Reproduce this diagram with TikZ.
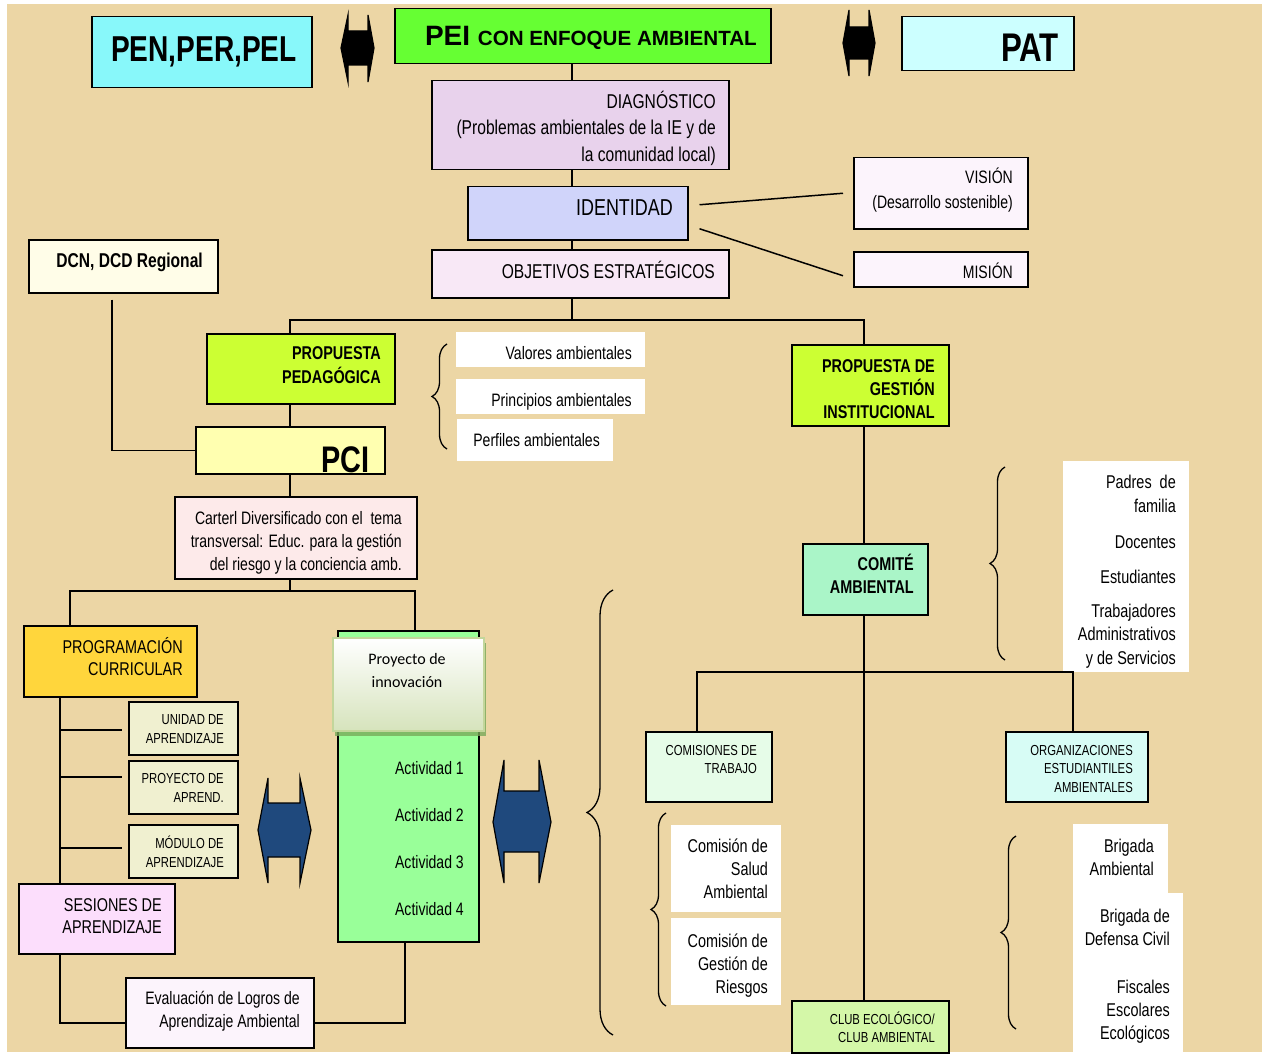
\documentclass[tikz,border=0pt]{standalone}
\usepackage{fontspec}
\setmainfont[FakeStretch=0.78]{Liberation Sans}
\newfontfamily\widefont{Liberation Sans}
\newfontfamily\calfont{Carlito}
\usetikzlibrary{decorations.pathreplacing,shadows}
\newcommand\fsz[2]{\fontsize{#1}{#2}\selectfont}
\newcommand\bx[6]{\node[#6, minimum width={#4-#2}, minimum height={#5-#3}, anchor=north west] (#1) at (#2,#3) {};}
\definecolor{bgc}{RGB}{236,214,165}
\definecolor{cpen}{RGB}{136,248,250}
\definecolor{cpei}{RGB}{102,255,51}
\definecolor{cpat}{RGB}{204,255,255}
\definecolor{cdiag}{RGB}{232,210,236}
\definecolor{cident}{RGB}{208,212,250}
\definecolor{cobj}{RGB}{248,232,246}
\definecolor{cvis}{RGB}{252,244,252}
\definecolor{cdcn}{RGB}{255,253,232}
\definecolor{clime}{RGB}{204,255,51}
\definecolor{cpci}{RGB}{255,255,176}
\definecolor{ccart}{RGB}{253,234,234}
\definecolor{cprog}{RGB}{255,214,60}
\definecolor{cunid}{RGB}{240,240,208}
\definecolor{cses}{RGB}{252,222,252}
\definecolor{cproj}{RGB}{153,255,153}
\definecolor{cblue}{RGB}{31,73,125}
\definecolor{ccom}{RGB}{170,245,200}
\definecolor{ccomis}{RGB}{230,252,232}
\definecolor{cclub}{RGB}{212,247,168}
\definecolor{corg}{RGB}{215,252,245}
\definecolor{cinnb}{RGB}{195,214,155}
\definecolor{cinnf}{RGB}{214,227,188}
\definecolor{cinns}{RGB}{120,170,90}
\begin{document}
\begin{tikzpicture}[x=1pt,y=-1pt,
  box/.style={draw=black, line width=1.5pt, inner sep=0pt},
  wbox/.style={fill=white, inner sep=0pt},
  ln/.style={line width=1.5pt},
  t/.style={inner sep=0pt, align=right, anchor=base east},
  br/.style={decorate, decoration={brace, amplitude=#1}, line width=1.3pt},
  shp/.style={draw=black, line width=1.2pt, line join=miter}]
\useasboundingbox (0,0) rectangle (1267,1054);
\fill[white] (0,0) rectangle (1267,1054);
\fill[bgc] (7,4) rectangle (1262,1052);

% ---------- boxes ----------
\bx{pen}{91}{16}{311}{87}{box, fill=cpen}
\bx{pei}{394}{8}{770}{63}{box, fill=cpei}
\bx{pat}{901}{16}{1073}{70}{box, fill=cpat}
\bx{diag}{431}{80}{728}{169}{box, fill=cdiag}
\bx{ident}{467}{186}{687}{239}{box, fill=cident}
\bx{obj}{431}{249}{728}{297}{box, fill=cobj}
\bx{vis}{853}{157}{1027}{228}{box, fill=cvis}
\bx{mis}{853}{251}{1027}{286}{box, fill=cvis}
\bx{dcn}{28}{239}{217}{292}{box, fill=cdcn}
\bx{pp}{206}{333}{394}{403}{box, fill=clime}
\bx{val}{456}{332}{645}{367}{wbox}
\bx{pri}{456}{379}{645}{414}{wbox}
\bx{per}{457}{419}{613}{461}{wbox}
\bx{pg}{791}{344}{948}{425}{box, fill=clime}
\bx{pci}{195}{426}{384}{473}{box, fill=cpci}
\bx{cart}{174}{496}{416}{578}{box, fill=ccart}
\bx{prog}{23}{625}{196}{696}{box, fill=cprog}
\bx{unid}{128}{701}{237}{754}{box, fill=cunid}
\bx{proy}{128}{760}{237}{813}{box, fill=cunid}
\bx{mod}{128}{824}{237}{877}{box, fill=cunid}
\bx{ses}{18}{883}{174}{953}{box, fill=cses}
\bx{eval}{125}{977}{313}{1047}{box, fill=cvis}
\bx{proj}{337}{630}{478}{941}{box, fill=cproj}
\bx{innov}{332}{637}{483}{730}{draw=cinnb, line width=2pt, inner sep=0pt, top color=white, bottom color=cinnf, drop shadow={shadow xshift=2pt, shadow yshift=-5pt, fill=cinns, opacity=0.8}}
\bx{com}{802}{543}{927}{614}{box, fill=ccom}
\bx{padres}{1063}{461}{1189}{672}{wbox}
\bx{comis}{645}{731}{771}{801}{box, fill=ccomis}
\bx{salud}{671}{825}{781}{912}{wbox}
\bx{gest}{671}{918}{781}{1005}{wbox}
\bx{club}{791}{1000}{948}{1052}{box, fill=cclub}
\bx{org}{1005}{731}{1147}{801}{box, fill=corg}
\bx{briga}{1073}{824}{1168}{893}{wbox}
\bx{brigb}{1073}{893}{1183}{1052}{wbox}

% ---------- helper coordinates ----------
\coordinate (xa) at (572,0);
\coordinate (xb) at (290,0);
\coordinate (xc) at (864,0);
\coordinate (xd) at (112,0);
\coordinate (xe) at (70,0);
\coordinate (xf) at (415,0);
\coordinate (xg) at (60,0);
\coordinate (xh) at (405,0);
\coordinate (xi) at (697,0);
\coordinate (xj) at (1073,0);
\coordinate (ya) at (0,320);
\coordinate (yb) at (0,591);
\coordinate (yc) at (0,672);
\coordinate (yd) at (0,1023);
\coordinate (yu) at (0,730);
\coordinate (yp) at (0,777);
\coordinate (ym) at (0,848);

% ---------- connectors ----------
\draw[ln] (pei.south -| xa) -- (diag.north -| xa);
\draw[ln] (diag.south -| xa) -- (ident.north -| xa);
\draw[ln] (ident.south -| xa) -- (obj.north -| xa);
\draw[ln] (obj.south -| xa) -- (xa |- ya);
\draw[ln] (pp.north -| xb) |- (xc |- ya) -- (pg.north -| xc);
\draw[ln] ([shift={(11,-8.5)}]ident.east) -- ([shift={(-10,0)}]vis.west);
\draw[ln] ([shift={(11,15.5)}]ident.east) -- ([shift={(-10,6.5)}]mis.west);
\draw[ln] (pp.south -| xb) -- (pci.north -| xb);
\draw[ln] ([yshift=-6pt]dcn.south -| xd) |- (pci.west);
\draw[ln] (pci.south -| xb) -- (cart.north -| xb);
\draw[ln] (cart.south -| xb) -- (xb |- yb);
\draw[ln] (prog.north -| xe) |- (xf |- yb) -- (proj.north -| xf);
\draw[ln] (prog.south -| xg) -- (ses.north -| xg);
\draw[ln, shorten >=6pt] (xg |- yu) -- (unid.west |- yu);
\draw[ln, shorten >=6pt] (xg |- yp) -- (proy.west |- yp);
\draw[ln, shorten >=6pt] (xg |- ym) -- (mod.west |- ym);
\draw[ln] (ses.south -| xg) |- (eval.west |- yd);
\draw[ln] (eval.east |- yd) -| (proj.south -| xh);
\draw[ln] (pg.south -| xc) -- (com.north -| xc);
\draw[ln] (com.south -| xc) -- (club.north -| xc);
\draw[ln] (comis.north -| xi) |- (xj |- yc) -- (org.north -| xj);

% ---------- braces ----------
\draw[br=15pt] (447,449) -- (447,344);
\draw[br=26pt] (613,1035) -- (613,590);
\draw[br=15pt] (1005,660) -- (1005,467);
\draw[br=15pt] (666,1006) -- (666,813);
\draw[br=15pt] (1016,1029) -- (1016,836);

% ---------- double arrows ----------
\filldraw[shp, fill=black] (341,48) -- (348,15) -- (348,31) -- (368,31) -- (368,15) -- (374,48) -- (368,82) -- (368,65) -- (348,65) -- (348,82) -- cycle;
\filldraw[shp, fill=black] (843,43) -- (849,10) -- (849,27) -- (869,27) -- (869,10) -- (875,43) -- (869,76) -- (869,59) -- (849,59) -- (849,76) -- cycle;
\filldraw[shp, fill=cblue] (258,830) -- (268,778) -- (268,803) -- (300,803) -- (300,778) -- (311,830) -- (300,883) -- (300,857) -- (268,857) -- (268,883) -- cycle;
\filldraw[shp, fill=cblue] (493,822) -- (504,760) -- (504,791) -- (539,791) -- (539,760) -- (551,822) -- (539,883) -- (539,852) -- (504,852) -- (504,883) -- cycle;

% ---------- texts (anchor = baseline of the last line) ----------
\node[t, font=\bfseries\fsz{36}{40}] (tpen) at (297,62) {PEN,PER,PEL};
\node[t, font=\widefont\bfseries] (tpei) at (757,46) {\fsz{28}{34}PEI \fsz{20.6}{24}CON ENFOQUE AMBIENTAL};
\node[t, font=\bfseries\fsz{40}{42}] (tpat) at (1059,62) {PAT};
\node[t, font=\fsz{20}{26}] (tdiag) at (716,161) {DIAGNÓSTICO\\(Problemas ambientales de la IE y de\\la comunidad local)};
\node[t, font=\fsz{23}{24}] (tident) at (673,215) {IDENTIDAD};
\node[t, font=\fsz{20}{24}] (tobj) at (715,278) {OBJETIVOS ESTRATÉGICOS};
\node[t, font=\fsz{18}{25}] (tvis) at (1013,208) {VISIÓN\\(Desarrollo sostenible)};
\node[t, font=\fsz{18}{25}] (tmis) at (1013,278) {MISIÓN};
\node[t, font=\bfseries\fsz{20}{24}] (tdcn) at (203,267) {DCN, DCD Regional};
\node[t, font=\bfseries\fsz{18.5}{24}] (tpp) at (381,383) {PROPUESTA\\PEDAGÓGICA};
\node[t, font=\fsz{18}{22}] (tval) at (632,359) {Valores ambientales};
\node[t, font=\fsz{18}{22}] (tpri) at (632,406) {Principios ambientales};
\node[t, font=\fsz{18}{22}] (tper) at (600,446) {Perfiles ambientales};
\node[t, font=\bfseries\fsz{18.5}{23}] (tpg) at (935,418) {PROPUESTA DE\\GESTIÓN\\INSTITUCIONAL};
\node[t, font=\bfseries\fsz{37}{42}] (tpci) at (370,472) {PCI};
\node[t, font=\fsz{18}{23}] (tcart) at (402,570) {Carterl Diversificado con el\ \ tema\\transversal: Educ. para la gestión\\del riesgo y la conciencia amb.};
\node[t, font=\fsz{18.5}{22}] (tprog) at (183,675) {PROGRAMACIÓN\\CURRICULAR};
\node[t, font=\fsz{14.5}{18.5}] (tunid) at (224,743) {UNIDAD DE\\APRENDIZAJE};
\node[t, font=\fsz{14.5}{18.5}] (tproy) at (224,802) {PROYECTO DE\\APREND.};
\node[t, font=\fsz{14.5}{19}] (tmod) at (224,867) {MÓDULO DE\\APRENDIZAJE};
\node[t, font=\fsz{18.5}{22}] (tses) at (162,933) {SESIONES DE\\APRENDIZAJE};
\node[t, font=\fsz{18}{22.5}] (teval) at (300,1027) {Evaluación de Logros de\\Aprendizaje Ambiental};
\node[inner sep=0pt, align=center, anchor=base, font=\calfont\fsz{16}{23}] (tinnov) at (407,687) {Proyecto de\\innovación};
\node[t, font=\fsz{18}{46.7}] (tact) at (464,915) {Actividad 1\\Actividad 2\\Actividad 3\\Actividad 4};
\node[t, font=\bfseries\fsz{18.5}{23}] (tcom) at (914,593) {COMITÉ\\AMBIENTAL};
\node[t, font=\fsz{18.5}{24}] (tpad) at (1176,512) {Padres\ \ de\\familia};
\node[t, font=\fsz{18.5}{24}] (tdoc) at (1176,548) {Docentes};
\node[t, font=\fsz{18.5}{24}] (test) at (1176,583) {Estudiantes};
\node[t, font=\fsz{18.5}{23.5}] (ttra) at (1176,664) {Trabajadores\\Administrativos\\y de Servicios};
\node[t, font=\fsz{14.5}{18}] (tcomis) at (757,773) {COMISIONES DE\\TRABAJO};
\node[t, font=\fsz{18.5}{23}] (tsalud) at (768,898) {Comisión de\\Salud\\Ambiental};
\node[t, font=\fsz{18.5}{23}] (tgest) at (768,993) {Comisión de\\Gestión de\\Riesgos};
\node[t, font=\fsz{14.5}{18}] (tclub) at (935,1042) {CLUB ECOLÓGICO/\\CLUB AMBIENTAL};
\node[t, font=\fsz{14.5}{18.5}] (torg) at (1133,792) {ORGANIZACIONES\\ESTUDIANTILES\\AMBIENTALES};
\node[t, font=\fsz{18.5}{23}] (tbra) at (1154,875) {Brigada\\Ambiental};
\node[t, font=\fsz{18.5}{23}] (tbrb) at (1170,945) {Brigada de\\Defensa Civil};
\node[t, font=\fsz{18.5}{23}] (tfis) at (1170,1039) {Fiscales\\Escolares\\Ecológicos};
\end{tikzpicture}
\end{document}
